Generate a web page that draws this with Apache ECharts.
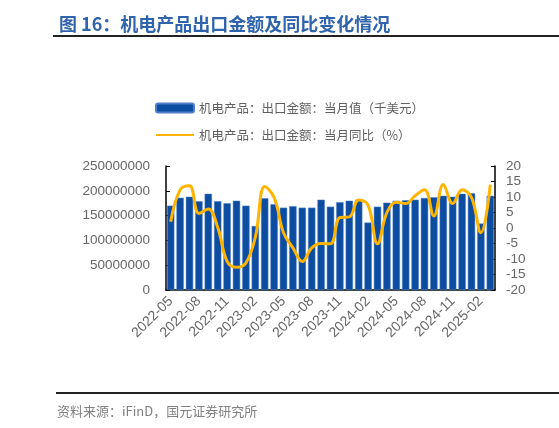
<!DOCTYPE html>
<html>
<head>
<meta charset="utf-8">
<script src="https://cdn.jsdelivr.net/npm/echarts@6/dist/echarts.min.js"></script>
<style>
html,body{margin:0;padding:0;background:#fff;}
#c{width:559px;height:428px;}
</style>
</head>
<body>
<div id="c"></div>
<script>
const categories = ['2022-05','2022-06','2022-07','2022-08','2022-09','2022-10','2022-11','2022-12',
  '2023-01','2023-02','2023-03','2023-04','2023-05','2023-06','2023-07','2023-08','2023-09','2023-10',
  '2023-11','2023-12','2024-01','2024-02','2024-03','2024-04','2024-05','2024-06','2024-07','2024-08',
  '2024-09','2024-10','2024-11','2024-12','2025-01','2025-02','2025-03'];
const exportValue = [170000000,186000000,188000000,179000000,194000000,179000000,175000000,180000000,
  170000000,129000000,185000000,173000000,166000000,169000000,166000000,166000000,182000000,168000000,
  177000000,180000000,182000000,136000000,168000000,176000000,180000000,181000000,182000000,185500000,
  187000000,190000000,188000000,194000000,195000000,134000000,190000000];
const exportYoY = [2.0,12.3,13.6,4.7,6.1,0.2,-10.8,-12.7,-11.3,-3.0,13.4,9.9,-1.5,-6.4,-10.8,-6.4,-5.0,-5.1,
  3.4,3.6,9.0,7.4,-5.1,5.0,8.3,7.9,10.4,12.3,3.9,14.0,7.9,12.3,9.9,-1.5,14.0];
const leftTicks = {min:0, max:250000000, interval:50000000};
const rightTicks = {min:-20, max:20, interval:5};
const barName = '机电产品：出口金额：当月值（千美元）';
const lineName = '机电产品：出口金额：当月同比（%）';
const titleText = '图 16：机电产品出口金额及同比变化情况';
const sourceText = '资料来源：iFinD，国元证券研究所';

const chart = echarts.init(document.getElementById('c'), null, {renderer:'canvas'});
const axisFont = 'Liberation Sans, Arial, sans-serif';
chart.setOption({
  animation:false,
  backgroundColor:'#fff',
  title:{
    text:titleText, left:54, top:10,
    textStyle:{fontFamily:'Noto Sans CJK SC', fontSize:18, fontWeight:'bold', color:'#2F63AC'}
  },
  graphic:[
    {type:'line', shape:{x1:53,y1:36,x2:559,y2:36}, style:{stroke:'#222',lineWidth:2}},
    {type:'line', shape:{x1:56,y1:393,x2:559,y2:393}, style:{stroke:'#222',lineWidth:2}},
    {type:'text', left:57, top:405, style:{text:sourceText, fontFamily:'Noto Sans CJK SC', fontSize:13, fill:'#808080'}}
  ],
  legend:{
    orient:'vertical', left:150, top:96, itemGap:13,
    itemWidth:38, itemHeight:9,
    textStyle:{fontFamily:'Noto Sans CJK SC', fontSize:12.5, color:'#606060', lineHeight:14},
    data:[{name:barName, icon:'roundRect'},{name:lineName, itemStyle:{opacity:0}}]
  },
  grid:{left:166, right:64, top:166, bottom:138, containLabel:false},
  xAxis:{
    type:'category', data:categories, boundaryGap:true,
    axisLine:{lineStyle:{color:'#000', width:1.5}},
    axisTick:{inside:true, interval:2, length:4, lineStyle:{color:'#000'}},
    axisLabel:{interval:2, rotate:45, margin:9, color:'#666', fontFamily:axisFont, fontSize:14}
  },
  yAxis:[
    {type:'value', min:leftTicks.min, max:leftTicks.max, interval:leftTicks.interval,
     splitLine:{show:false},
     axisLine:{show:true, lineStyle:{color:'#000', width:1.5}},
     axisTick:{show:true, inside:true, length:4, lineStyle:{color:'#000'}},
     axisLabel:{margin:16, color:'#666', fontFamily:axisFont, fontSize:13.5, formatter:function(v){return String(v);}}},
    {type:'value', min:rightTicks.min, max:rightTicks.max, interval:rightTicks.interval,
     splitLine:{show:false},
     axisLine:{show:true, lineStyle:{color:'#000', width:1.5}},
     axisTick:{show:true, inside:true, length:4, lineStyle:{color:'#000'}},
     axisLabel:{margin:11, color:'#666', fontFamily:axisFont, fontSize:13.5}}
  ],
  series:[
    {name:barName, type:'bar', data:exportValue, yAxisIndex:0, barCategoryGap:'22%',
     itemStyle:{color:'#0C4DA2', borderColor:'#4F80C6', borderWidth:0.5}},
    {name:lineName, type:'line', data:exportYoY, yAxisIndex:1, smooth:0.4, symbol:'none',
     lineStyle:{color:'#FFB400', width:3}, itemStyle:{color:'#FFB400'}}
  ]
});
</script>
</body>
</html>
